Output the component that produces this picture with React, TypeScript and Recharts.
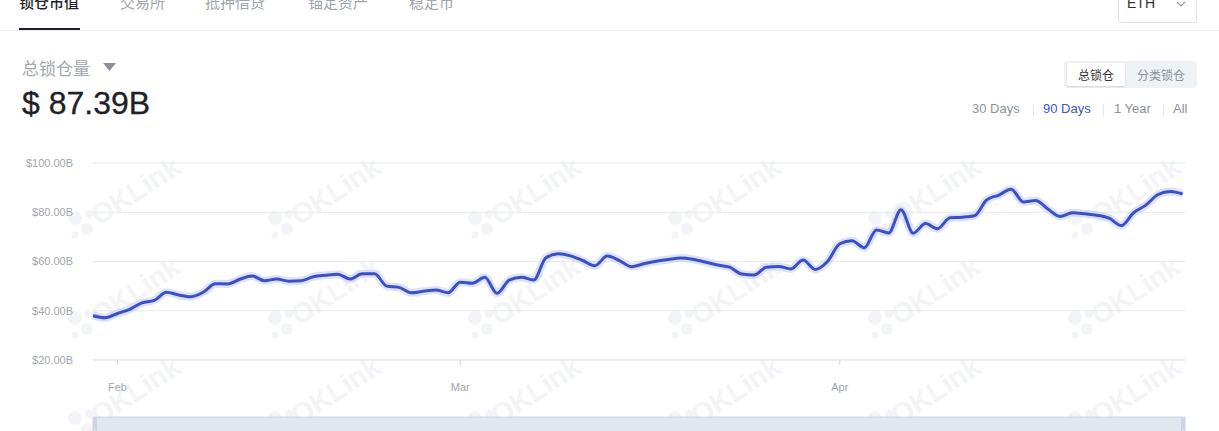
import { LineChart, Line, XAxis, YAxis, CartesianGrid, Brush, AreaChart, Area } from 'recharts';

// ETH total value locked, daily, Jan 30 -> Apr 29 (billions USD)
const TVL_BILLIONS = [
  38.0, 37.2, 38.9, 40.6, 43.2, 44.2, 47.5, 46.4, 45.7, 47.5,
  51.0, 50.9, 52.8, 54.1, 52.2, 52.9, 52.0, 52.2, 53.8, 54.4,
  54.8, 52.9, 55.0, 55.0, 50.0, 49.5, 47.3, 47.9, 48.4, 47.3,
  51.6, 51.2, 53.6, 47.1, 52.4, 53.6, 52.5, 61.5, 63.1, 62.3,
  60.4, 58.3, 62.2, 60.4, 57.9, 59.1, 60.1, 60.8, 61.4, 60.9,
  59.8, 58.6, 57.7, 54.9, 54.5, 57.7, 58.0, 57.0, 60.6, 56.8,
  60.0, 67.2, 68.4, 65.6, 72.8, 71.6, 81.0, 71.5, 75.4, 73.3,
  77.8, 78.0, 78.6, 85.0, 87.0, 89.3, 84.2, 84.8, 81.3, 78.3,
  79.8, 79.4, 78.8, 77.6, 74.6, 79.8, 82.9, 87.2, 88.4, 87.39,
];
const MONTH_TICKS = [2, 30, 61];
const MONTH_LABELS = ['Feb', 'Mar', 'Apr'];
const Y_TICKS = [20, 40, 60, 80, 100];

const TABS = ['锁仓市值', '交易所', '抵押借贷', '锚定资产', '稳定币'];
const TAB_LEFT = [19, 120, 205, 308, 409];
const RANGES = ['30 Days', '90 Days', '1 Year', 'All'];
const RANGE_LEFT = [972, 1043, 1114, 1173];
const ACTIVE_RANGE = '90 Days';

const LATIN = '"Helvetica Neue", Arial, "Liberation Sans", "Noto Sans CJK SC", sans-serif';
const LINE_COLOR = '#3a4fc8';
const AXIS_TEXT = '#a2a6ad';

const data = TVL_BILLIONS.map((tvl, day) => ({ day, tvl }));

function Watermarks() {
  const marks: { x: number; y: number }[] = [];
  for (let r = 0; r < 3; r++) {
    for (let c = 0; c < 6; c++) {
      marks.push({ x: 67 + c * 200, y: 226 + r * 100 });
    }
  }
  return (
    <svg width={1219} height={431} style={{ position: 'absolute', left: 0, top: 0 }}>
      {marks.map((m, i) => (
        <g key={i} fill="#f3f4f7">
          <circle cx={m.x + 8} cy={m.y - 8} r={7} />
          <circle cx={m.x + 22} cy={m.y - 12} r={4} />
          <circle cx={m.x + 20} cy={m.y + 3} r={6} />
          <circle cx={m.x + 8} cy={m.y + 9} r={3.5} />
          <text
            x={m.x + 32}
            y={m.y}
            fontSize={28}
            fontWeight={700}
            fontFamily="Arial, 'Liberation Sans', sans-serif"
            transform={`rotate(-33 ${m.x + 32} ${m.y})`}
          >
            OKLink
          </text>
        </g>
      ))}
    </svg>
  );
}

export default function App() {
  return (
    <div
      style={{
        position: 'fixed',
        left: 0,
        top: 0,
        width: 1219,
        height: 431,
        overflow: 'hidden',
        background: '#fff',
        fontFamily: LATIN,
      }}
    >
      {/* top tabs, scrolled partly out of view */}
      {TABS.map((t, i) => (
        <div
          key={t}
          style={{
            position: 'absolute',
            left: TAB_LEFT[i],
            top: -6,
            fontSize: 15,
            lineHeight: '15px',
            color: i === 0 ? '#1f2329' : '#a0a4ab',
            fontWeight: i === 0 ? 500 : 400,
            fontFamily: '"Noto Sans CJK SC", sans-serif',
            whiteSpace: 'nowrap',
          }}
        >
          {t}
        </div>
      ))}
      <div style={{ position: 'absolute', left: 19, top: 28, width: 61, height: 3, background: '#1f2329' }} />
      <div style={{ position: 'absolute', left: 0, top: 30, width: 1219, height: 1, background: '#eaecef' }} />

      <div
        style={{
          position: 'absolute',
          left: 1118,
          top: -10,
          width: 77,
          height: 31,
          border: '1px solid #e1e3e7',
          borderRadius: 3,
          fontSize: 14,
          color: '#333',
        }}
      >
        <span style={{ position: 'absolute', left: 8, top: 4 }}>ETH</span>
        <svg width={10} height={8} style={{ position: 'absolute', left: 57, top: 10 }}>
          <polyline points="1,1 5,5 9,1" fill="none" stroke="#9a9ea6" strokeWidth={1.2} />
        </svg>
      </div>

      <Watermarks />

      {/* header */}
      <div
        style={{
          position: 'absolute',
          left: 22,
          top: 58,
          fontSize: 17,
          lineHeight: '19px',
          color: '#a4a8b0',
          fontFamily: '"Noto Sans CJK SC", sans-serif',
        }}
      >
        总锁仓量
      </div>
      <svg width={13} height={9} style={{ position: 'absolute', left: 103, top: 63 }}>
        <polygon points="0,0 13,0 6.5,8" fill="#8c9098" />
      </svg>
      <div
        style={{
          position: 'absolute',
          left: 22,
          top: 87,
          fontSize: 32,
          lineHeight: '32px',
          color: '#1d2129',
          whiteSpace: 'nowrap',
          WebkitTextStroke: '0.3px #1d2129',
        }}
      >
        $ 87.39B
      </div>

      {/* total / category toggle */}
      <div
        style={{
          position: 'absolute',
          left: 1064,
          top: 61,
          width: 133,
          height: 27,
          background: '#eef1f6',
          borderRadius: 3,
          fontFamily: '"Noto Sans CJK SC", sans-serif',
          fontSize: 12,
        }}
      >
        <div
          style={{
            position: 'absolute',
            left: 3,
            top: 2,
            width: 58,
            height: 23,
            background: '#fff',
            borderRadius: 2,
            boxShadow: '0 1px 2px rgba(0,0,0,0.12)',
            color: '#333',
            textAlign: 'center',
            lineHeight: '23px',
          }}
        >
          总锁仓
        </div>
        <div
          style={{
            position: 'absolute',
            left: 61,
            top: 2,
            width: 72,
            textAlign: 'center',
            lineHeight: '23px',
            color: '#8c919b',
          }}
        >
          分类锁仓
        </div>
      </div>

      {/* range selector */}
      {RANGES.map((r, i) => (
        <span
          key={r}
          style={{
            position: 'absolute',
            left: RANGE_LEFT[i],
            top: 101,
            fontSize: 13,
            lineHeight: '16px',
            color: r === ACTIVE_RANGE ? '#3c55c0' : '#8d9199',
            whiteSpace: 'nowrap',
          }}
        >
          {r}
        </span>
      ))}
      {[1033, 1103, 1163].map((x) => (
        <div key={x} style={{ position: 'absolute', left: x, top: 104, width: 1, height: 12, background: '#e6e8eb' }} />
      ))}

      <div style={{ position: 'absolute', left: 0, top: 0 }}>
        <LineChart
          width={1219}
          height={460}
          data={data}
          margin={{ top: 163, right: 34, bottom: 40, left: 0 }}
        >
          <CartesianGrid vertical={false} stroke="#e8e9ec" />
          <XAxis
            dataKey="day"
            type="number"
            domain={[0, 89.2]}
            ticks={MONTH_TICKS}
            tickFormatter={(v: number) => MONTH_LABELS[MONTH_TICKS.indexOf(v)] ?? ''}
            height={30}
            tickSize={5}
            tickMargin={18}
            axisLine={{ stroke: '#e3e5e8' }}
            tickLine={{ stroke: '#cfd2d7' }}
            tick={{ fontSize: 11, fill: AXIS_TEXT, fontFamily: LATIN }}
          />
          <YAxis
            type="number"
            domain={[20, 100]}
            ticks={Y_TICKS}
            width={93}
            axisLine={false}
            tickLine={false}
            tickMargin={14}
            tickFormatter={(v: number) => `$${v}.00B`}
            tick={{ fontSize: 11, fill: AXIS_TEXT, fontFamily: LATIN }}
          />
          {/* soft glow under the main line */}
          <Line
            type="monotone"
            dataKey="tvl"
            stroke="#b9c5f3"
            strokeOpacity={0.5}
            strokeWidth={8}
            dot={false}
            activeDot={false}
            isAnimationActive={false}
          />
          <Line
            type="monotone"
            dataKey="tvl"
            stroke={LINE_COLOR}
            strokeWidth={3}
            dot={false}
            isAnimationActive={false}
          />
          <Brush
            dataKey="day"
            y={417}
            height={30}
            travellerWidth={4}
            fill="#e7ecf3"
            stroke="#cdd6e3"
          >
            <AreaChart data={data}>
              <Area
                type="monotone"
                dataKey="tvl"
                stroke="#d3dbe7"
                fill="#dfe6ef"
                isAnimationActive={false}
              />
            </AreaChart>
          </Brush>
        </LineChart>
      </div>
    </div>
  );
}
